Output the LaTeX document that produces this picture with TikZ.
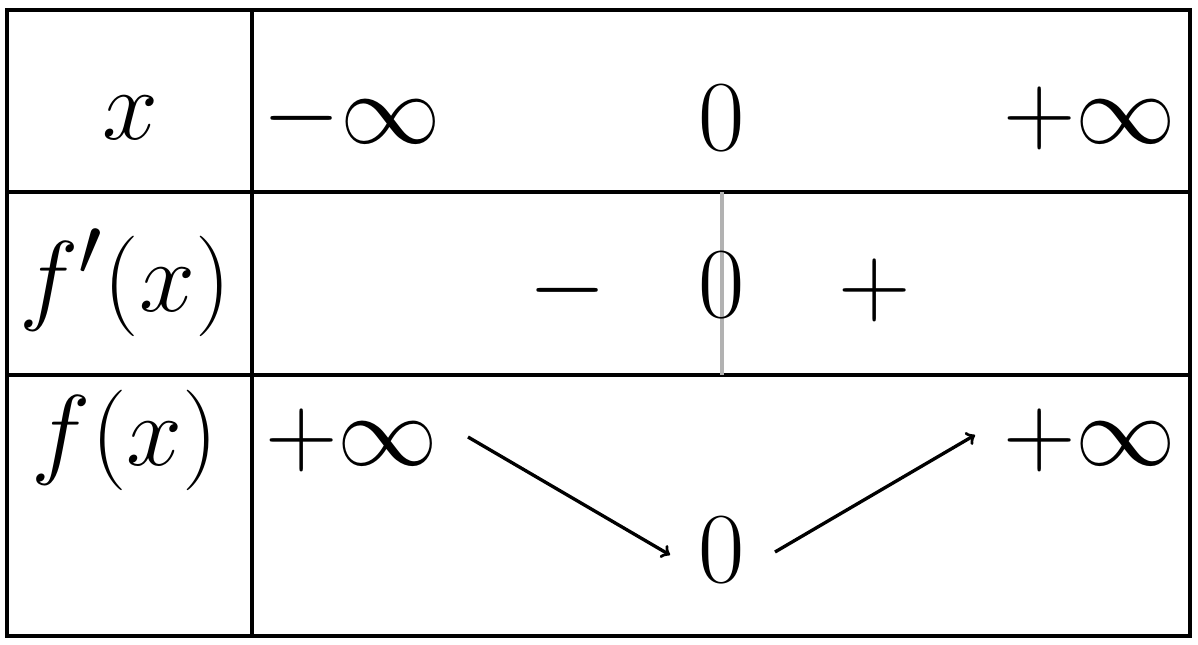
\documentclass[tikz,border=0pt]{standalone}
\usepackage{graphicx}
\newcommand{\tabtxt}[1]{\scalebox{2.3}{\Huge$#1$}}
\begin{document}
\begin{tikzpicture}[x=0.02cm,y=-0.02cm,
  frame/.style={line width=2.3pt},
  var/.style={line width=1.9pt,->}]
\useasboundingbox (0,0) rectangle (1198,645);
% table frame
\draw[frame] (7,10) rectangle (1190,636);
\draw[frame] (252,10) -- (252,636);
\draw[frame] (7,192) -- (1190,192);
\draw[frame] (7,375) -- (1190,375);
\draw[line width=2.3pt,gray!60] (722,192) -- (722,375);
% first row
\node (x) at (130,118) {\tabtxt{x}};
\node (xa) at (352,118) {\tabtxt{-\infty}};
\node (xb) at (722,118) {\tabtxt{0}};
\node (xc) at (1090,118) {\tabtxt{+\infty}};
% sign row
\node (d) at (125,283) {\tabtxt{f'(x)}};
\node (da) at (568,290) {\tabtxt{-}};
\node (db) at (722,285) {\tabtxt{0}};
\node (dc) at (875,290) {\tabtxt{+}};
% variation row
\node (f) at (125,440) {\tabtxt{f(x)}};
\node (fa) at (352,440) {\tabtxt{+\infty}};
\node (fb) at (722,550) {\tabtxt{0}};
\node (fc) at (1090,440) {\tabtxt{+\infty}};
\draw[var] (468,437) coordinate (s1) -- (670,555) coordinate (e1);
\draw[var] (775,552) coordinate (s2) -- (975,435) coordinate (e2);
\end{tikzpicture}
\end{document}
